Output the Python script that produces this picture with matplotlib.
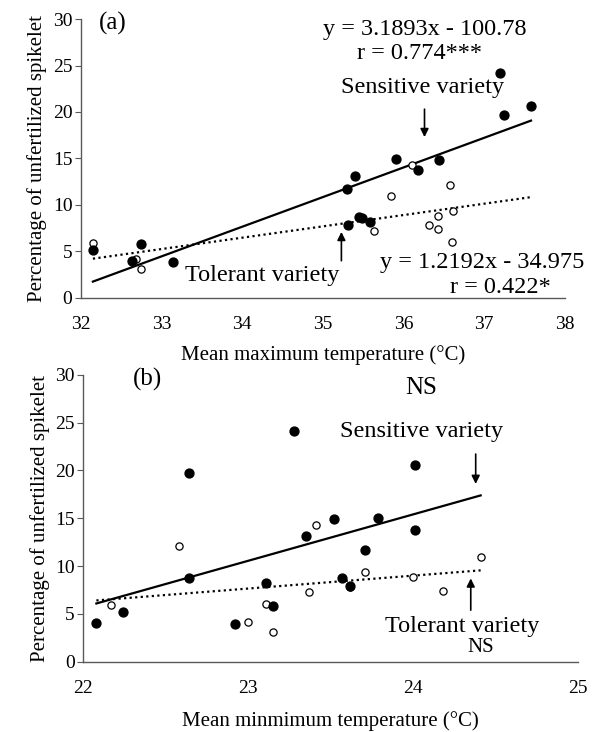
import numpy as np
import matplotlib
matplotlib.use("Agg")
import matplotlib.pyplot as plt

plt.rcParams["font.family"] = ["Liberation Serif", "DejaVu Serif"]

# panel (a): mean maximum temperature
sens_tmax = [32.15, 32.63, 32.75, 33.14, 35.30, 35.31, 35.40, 35.45, 35.48, 35.59,
             35.91, 36.18, 36.44, 37.19, 37.25, 37.58]
sens_a = [5.2, 4.0, 5.8, 3.85, 11.7, 7.8, 13.1, 8.75, 8.6, 8.2,
          14.95, 13.75, 14.85, 24.2, 19.7, 20.6]
tol_tmax = [32.15, 32.69, 32.75, 35.64, 35.85, 36.10, 36.32, 36.43, 36.43, 36.58,
            36.60, 36.61]
tol_a = [5.95, 4.2, 3.1, 7.25, 11.0, 14.35, 7.85, 8.8, 7.4, 12.1, 6.0, 9.4]

# panel (b): mean minimum temperature
sens_tmin = [22.08, 22.24, 22.64, 22.64, 22.92, 23.11, 23.15, 23.28, 23.35, 23.52,
             23.57, 23.62, 23.71, 23.79, 24.01, 24.01]
sens_b = [4.0, 5.2, 19.7, 8.8, 3.95, 8.2, 5.8, 24.1, 13.1, 14.9,
          8.75, 7.95, 11.7, 15.0, 20.6, 13.8]
tol_tmin = [22.17, 22.58, 23.00, 23.11, 23.15, 23.37, 23.41, 23.62, 23.71, 24.00,
            24.18, 24.41]
tol_b = [5.9, 12.1, 4.2, 6.0, 3.1, 7.25, 14.3, 7.85, 9.4, 8.9, 7.4, 11.0]

# trend lines (slope, intercept)
fit_sens_a = (3.1893, -100.78)
fit_tol_a = (1.2192, -34.975)
fit_sens_b = (4.85, -101.0)
fit_tol_b = (1.35, -23.4)

fig = plt.figure(figsize=(5.94, 7.32), dpi=100)
ax1 = fig.add_axes([0.136, 0.593, 0.815, 0.381])
ax2 = fig.add_axes([0.140, 0.096, 0.833, 0.392])

ANN = 17.5
ARROW = dict(arrowstyle="-|>", color="black", lw=1.2, mutation_scale=12)


def draw_panel(ax, xs, ys, xt, yt, fs, ft, xpad):
    lo = min(min(xs), min(xt))
    hi = max(max(xs), max(xt))
    xx = np.array([lo, hi])
    ax.plot(xx, fs[0] * xx + fs[1], color="black", lw=1.6, zorder=2)
    ax.plot(xx, ft[0] * xx + ft[1], color="black", lw=1.6, ls=(0, (1, 1.5)), zorder=2)
    ax.plot(xt, yt, "o", ms=5.2, mfc="white", mec="black", mew=0.9, zorder=3)
    ax.plot(xs, ys, "o", ms=6.4, color="black", zorder=4)
    ax.set_ylim(0, 30)
    ax.set_yticks(range(0, 31, 5))
    for s in ["top", "right"]:
        ax.spines[s].set_visible(False)
    for s in ["left", "bottom"]:
        ax.spines[s].set_color("#595959")
        ax.spines[s].set_linewidth(1.0)
    ax.tick_params(axis="y", direction="out", length=4, color="#595959", labelsize=14, pad=2)
    ax.tick_params(axis="x", length=0, labelsize=14, pad=xpad)
    ax.set_ylabel("Percentage of unfertilized spikelet", fontsize=15, labelpad=4)


draw_panel(ax1, sens_tmax, sens_a, tol_tmax, tol_a, fit_sens_a, fit_tol_a, 13)
ax1.set_xlim(32, 38)
ax1.set_xticks(range(32, 39))
ax1.set_xlabel("Mean maximum temperature (\u00b0C)", fontsize=15, labelpad=9)
ax1.text(32.23, 29.5, "(a)", fontsize=18, va="center", ha="left")
ax1.text(36.26, 28.9, "y = 3.1893x - 100.78", fontsize=ANN, ha="center", va="center")
ax1.text(36.2, 26.3, "r = 0.774***", fontsize=ANN, ha="center", va="center")
ax1.text(36.24, 22.6, "Sensitive variety", fontsize=ANN, ha="center", va="center")
ax1.annotate("", xy=(36.26, 17.0), xytext=(36.26, 20.6), arrowprops=ARROW)
ax1.text(34.25, 2.4, "Tolerant variety", fontsize=ANN, ha="center", va="center")
ax1.annotate("", xy=(35.23, 7.4), xytext=(35.23, 3.7), arrowprops=ARROW)
ax1.text(36.98, 3.8, "y = 1.2192x - 34.975", fontsize=ANN, ha="center", va="center")
ax1.text(37.2, 1.1, "r = 0.422*", fontsize=ANN, ha="center", va="center")

draw_panel(ax2, sens_tmin, sens_b, tol_tmin, tol_b, fit_sens_b, fit_tol_b, 13)
ax2.set_xlim(22, 25)
ax2.set_xticks(range(22, 26))
ax2.set_xlabel("Mean minmimum temperature (\u00b0C)", fontsize=15, labelpad=10)
ax2.text(22.3, 29.5, "(b)", fontsize=18, va="center", ha="left")
ax2.text(24.05, 28.6, "NS", fontsize=18, ha="center", va="center")
ax2.text(24.05, 24.1, "Sensitive variety", fontsize=ANN, ha="center", va="center")
ax2.annotate("", xy=(24.38, 18.3), xytext=(24.38, 22.0), arrowprops=ARROW)
ax2.annotate("", xy=(24.35, 9.0), xytext=(24.35, 5.1), arrowprops=ARROW)
ax2.text(24.3, 3.7, "Tolerant variety", fontsize=ANN, ha="center", va="center")
ax2.text(24.41, 1.5, "NS", fontsize=15, ha="center", va="center")

fig.savefig("out.png", dpi=100)
plt.close(fig)
